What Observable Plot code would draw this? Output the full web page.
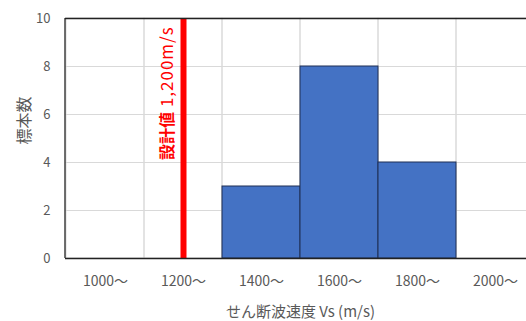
<!DOCTYPE html>
<html><head><meta charset="utf-8">
<script src="https://cdn.jsdelivr.net/npm/d3@7"></script>
<script src="https://cdn.jsdelivr.net/npm/@observablehq/plot@0.6"></script>
<style>
html,body{margin:0;padding:0;overflow:hidden;background:#fff;}
svg{display:block;max-width:none !important;}
</style></head>
<body><div id="chart"></div>
<script>
const categories = ["1000〜","1200〜","1400〜","1600〜","1800〜","2000〜"];
const counts = [0, 0, 3, 8, 4, 0];
const yTicks = [0, 2, 4, 6, 8, 10];
const gridTicks = [2, 4, 6, 8];
const designCategory = "1200〜";
const designLabelKanji = "設計値";
const designLabelValue = "1,200m/s";
const xLabel = "せん断波速度 Vs (m/s)";
const yLabel = "標本数";

const data = categories.map((c, i) => ({cat: c, n: counts[i]}));
const font = "'Noto Sans CJK JP', 'Noto Sans', sans-serif";
const textColor = "#595959";

const chart = Plot.plot({
  width: 545, height: 321,
  marginLeft: 65, marginRight: 10, marginTop: 18, marginBottom: 63,
  style: {fontFamily: font, color: textColor, background: "#fff", maxWidth: "none"},
  x: {domain: categories, padding: 0, label: null},
  y: {domain: [0, 10], ticks: yTicks, label: null},
  marks: [
    Plot.rectY(categories, {x: d => d, y1: 0, y2: 10, fill: "none", stroke: "#d9d9d9", strokeWidth: 1}),
    Plot.ruleY(gridTicks, {stroke: "#d9d9d9", strokeWidth: 1}),
    Plot.barY(data, {x: "cat", y: "n", fill: "#4472C4", stroke: "#1f2f55", strokeWidth: 1}),
    Plot.ruleX([designCategory], {stroke: "#ff0000", strokeWidth: 6}),
    Plot.text([designLabelKanji], {x: () => designCategory, y: () => 4.1, text: d => d, rotate: -90, textAnchor: "start", dx: -16, fill: "#ff0000", fontWeight: "bold", fontSize: 16}),
    Plot.text([designLabelValue], {x: () => designCategory, y: () => 4.1, text: d => d, rotate: -90, textAnchor: "start", dx: -16, dy: -53, fill: "#ff0000", fontWeight: "normal", fontSize: 17}),
    Plot.ruleY([0, 10], {stroke: "#222", strokeWidth: 1.3}),
    Plot.axisY({ticks: yTicks, tickSize: 0, tickPadding: 15, fontSize: 13, label: null}),
    Plot.axisX({tickSize: 0, tickPadding: 18, fontSize: 14, label: null}),
    Plot.text([yLabel], {frameAnchor: "left", textAnchor: "middle", text: d => d, rotate: -90, dx: -41, dy: -18, fontSize: 16}),
    Plot.text([xLabel], {frameAnchor: "bottom", text: d => d, dy: 58, fontSize: 15})
  ]
});
document.getElementById("chart").appendChild(chart);
const svg = d3.select(chart);
svg.selectAll("text").filter(function() { return this.textContent === designLabelValue; }).attr("letter-spacing", "1px");
svg.append("line").attr("x1", 65).attr("x2", 65).attr("y1", 18).attr("y2", 258).attr("stroke", "#222").attr("stroke-width", 1.3);
</script>
</body></html>
